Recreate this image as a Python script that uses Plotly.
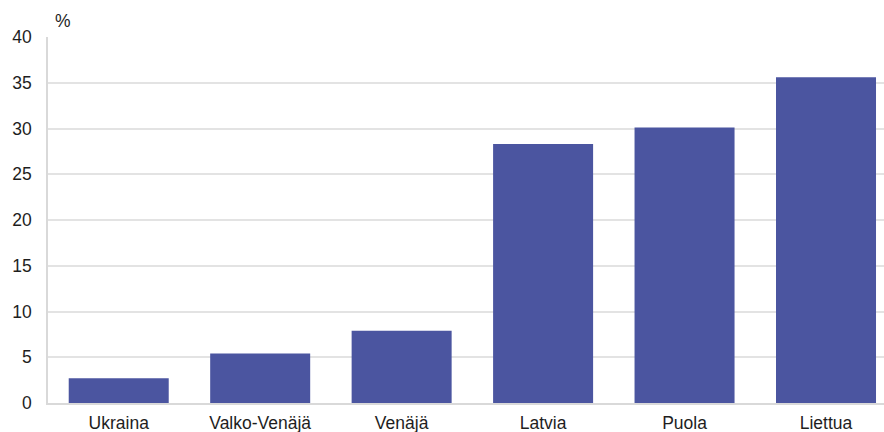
import plotly.graph_objects as go

categories = ["Ukraina", "Valko-Venäjä", "Venäjä", "Latvia", "Puola", "Liettua"]
values = [2.7, 5.4, 7.9, 28.3, 30.1, 35.6]
y_ticks = [0, 5, 10, 15, 20, 25, 30, 35, 40]

fig = go.Figure(go.Bar(
    x=categories, y=values, marker_color="#4B55A0", width=0.707,
    marker_line_width=0,
))

font = dict(family="Liberation Sans, Arial, sans-serif", size=17.5, color="#1e1e1e")
fig.update_layout(
    width=884, height=432,
    margin=dict(l=48, r=0, t=37, b=29, autoexpand=False),
    paper_bgcolor="white", plot_bgcolor="white",
    font=font, showlegend=False,
    xaxis=dict(range=[-0.5, 5.41], showgrid=False, showline=True, linecolor="#d9d9d9",
               linewidth=1.5, ticks="", tickfont=font, fixedrange=True, ticklabelstandoff=3,
               automargin=False),
    yaxis=dict(range=[0, 40], tickvals=y_ticks, showgrid=True, gridcolor="#e3e3e3", gridwidth=1.5,
               showline=True, linecolor="#d9d9d9", linewidth=1.5, zeroline=False,
               ticks="", tickfont=font, ticklabelstandoff=11, automargin=False, fixedrange=True),
    annotations=[dict(text="%", xref="paper", yref="paper", x=0.0, y=1.0, yshift=16,
                      xshift=5, xanchor="left", yanchor="middle", showarrow=False, font=font)],
)

fig.write_html("out.html", config={"displayModeBar": False},
               post_script="document.body.style.margin='0';document.body.style.overflow='hidden';")
